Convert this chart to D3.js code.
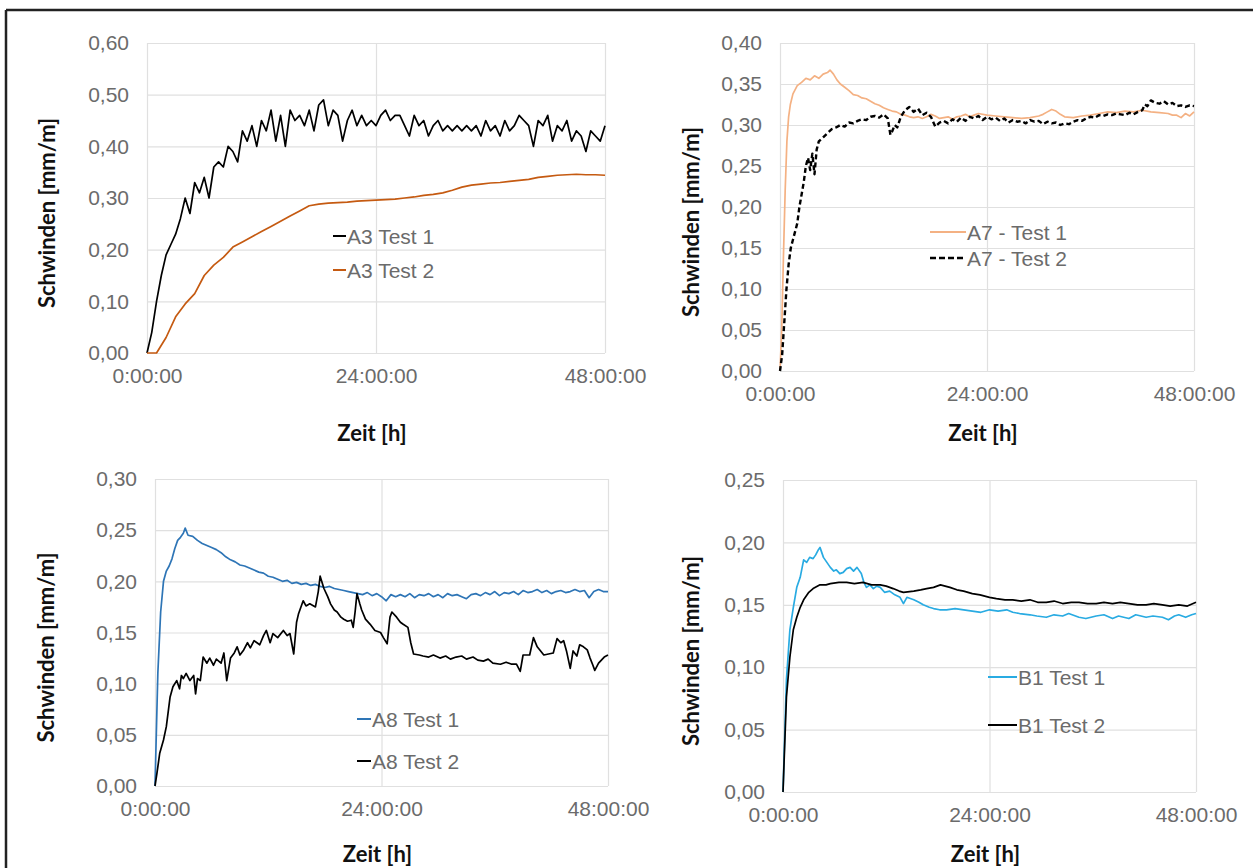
<!DOCTYPE html>
<html><head><meta charset="utf-8">
<script src="https://cdn.jsdelivr.net/npm/d3@7"></script>
<style>body{margin:0;background:#fff}</style></head>
<body>
<svg id="c" width="1253" height="868"></svg>
<script>
// ---------- data ----------
const xTickHours = [0, 24, 48];
const xTickLabels = ["0:00:00", "24:00:00", "48:00:00"];
const xTitle = "Zeit [h]";
const yTitle = "Schwinden [mm/m]";

// Panel A3
const a3YTicks = [0, 0.1, 0.2, 0.3, 0.4, 0.5, 0.6];
const a3t1Time = [0,0.5,1,1.5,2,2.5,3,3.5,4,4.5,5,5.5,6,6.5,7,7.5,8,8.5,9,9.5,10,10.5,11,11.5,12,12.5,13,13.5,14,14.5,15,15.5,16,16.5,17,17.5,18,18.5,19,19.5,20,20.5,21,21.5,22,22.5,23,23.5,24,24.5,25,25.5,26,26.5,27,27.5,28,28.5,29,29.5,30,30.5,31,31.5,32,32.5,33,33.5,34,34.5,35,35.5,36,36.5,37,37.5,38,38.5,39,39.5,40,40.5,41,41.5,42,42.5,43,43.5,44,44.5,45,45.5,46,46.5,47,47.5,48];
const a3t1Val = [0.00,0.04,0.10,0.15,0.19,0.21,0.23,0.26,0.30,0.27,0.33,0.31,0.34,0.30,0.36,0.37,0.36,0.40,0.39,0.37,0.43,0.41,0.44,0.40,0.45,0.43,0.47,0.41,0.46,0.40,0.47,0.45,0.46,0.44,0.47,0.43,0.48,0.49,0.44,0.47,0.46,0.41,0.45,0.47,0.44,0.46,0.44,0.45,0.44,0.46,0.47,0.45,0.46,0.46,0.44,0.42,0.46,0.44,0.45,0.42,0.44,0.45,0.43,0.44,0.43,0.44,0.43,0.44,0.43,0.44,0.42,0.45,0.43,0.44,0.42,0.45,0.43,0.44,0.46,0.45,0.44,0.40,0.45,0.44,0.46,0.41,0.44,0.43,0.45,0.41,0.43,0.42,0.39,0.43,0.42,0.41,0.44];
const a3t2Time = [0,1,2,3,4,5,6,7,8,9,10,11,12,13,14,15,16,17,18,19,20,21,22,23,24,25,26,27,28,29,30,31,32,33,34,35,36,37,38,39,40,41,42,43,44,45,46,47,48];
const a3t2Val = [0,0.00,0.03,0.07,0.095,0.115,0.15,0.17,0.185,0.205,0.215,0.225,0.235,0.245,0.255,0.265,0.275,0.285,0.288,0.29,0.291,0.292,0.294,0.295,0.296,0.297,0.298,0.30,0.302,0.305,0.307,0.31,0.315,0.321,0.325,0.327,0.329,0.33,0.332,0.334,0.336,0.34,0.342,0.344,0.345,0.346,0.345,0.345,0.344];

// Panel A7
const a7YTicks = [0, 0.05, 0.1, 0.15, 0.2, 0.25, 0.3, 0.35, 0.4];
const a7t1Time = [0,0.2,0.4,0.6,0.8,1,1.2,1.5,2,2.5,3,3.5,4,4.5,5,5.5,5.8,6.2,6.6,7,7.5,8,8.5,9,9.5,10,10.5,11,11.5,12,12.5,13,13.5,14,14.5,15,15.5,16,16.5,17,17.5,18,18.5,19,19.5,20,20.5,21,21.5,22,22.5,23,24,25,26,27,28,29,30,30.5,31,31.5,32,32.5,33,34,35,36,37,38,39,40,41,42,43,44,45,45.5,46,46.5,47,47.5,48];
const a7t1Val = [0,0.05,0.14,0.22,0.28,0.31,0.325,0.338,0.348,0.352,0.357,0.355,0.36,0.357,0.362,0.364,0.367,0.362,0.355,0.35,0.346,0.342,0.337,0.336,0.333,0.332,0.329,0.326,0.324,0.321,0.319,0.317,0.316,0.313,0.312,0.31,0.309,0.31,0.308,0.31,0.313,0.311,0.308,0.309,0.31,0.307,0.31,0.311,0.313,0.31,0.312,0.314,0.312,0.311,0.31,0.309,0.308,0.309,0.311,0.313,0.316,0.319,0.317,0.313,0.31,0.309,0.311,0.312,0.314,0.316,0.315,0.317,0.316,0.318,0.316,0.315,0.314,0.312,0.312,0.309,0.314,0.311,0.316];
const a7t2Time = [0,0.25,0.5,0.75,1,1.25,1.5,1.75,2,2.25,2.5,2.75,3,3.25,3.5,3.75,4,4.25,4.5,5,5.5,6,6.5,7,7.5,8,8.5,9,9.5,10,10.5,11,11.5,12,12.5,12.8,13,13.3,13.6,14,14.5,15,15.5,16,16.5,17,17.5,18,18.5,19,19.5,20,20.5,21,21.5,22,22.5,23,23.5,24,24.5,25,25.5,26,26.5,27,27.5,28,28.5,29,29.5,30,30.5,31,31.5,32,32.5,33,33.5,34,34.5,35,35.5,36,36.5,37,37.5,38,38.5,39,39.5,40,40.5,41,41.5,42,42.3,42.6,43,43.5,44,44.5,45,45.5,46,46.5,47,47.5,48];
const a7t2Val = [0,0.02,0.06,0.10,0.13,0.15,0.16,0.17,0.18,0.20,0.215,0.23,0.25,0.26,0.245,0.265,0.24,0.27,0.28,0.285,0.29,0.295,0.297,0.30,0.298,0.303,0.302,0.305,0.307,0.306,0.31,0.311,0.309,0.313,0.308,0.288,0.292,0.30,0.297,0.31,0.318,0.322,0.316,0.32,0.312,0.315,0.31,0.298,0.303,0.305,0.302,0.307,0.304,0.309,0.305,0.31,0.308,0.311,0.306,0.31,0.307,0.309,0.305,0.308,0.303,0.306,0.304,0.305,0.302,0.306,0.304,0.305,0.301,0.304,0.302,0.303,0.300,0.302,0.301,0.304,0.306,0.305,0.308,0.31,0.309,0.312,0.311,0.313,0.312,0.314,0.313,0.312,0.315,0.313,0.316,0.318,0.325,0.323,0.33,0.327,0.326,0.329,0.325,0.327,0.323,0.324,0.322,0.324,0.323];

// Panel A8
const a8YTicks = [0, 0.05, 0.1, 0.15, 0.2, 0.25, 0.3];
const a8t1Time = [0,0.3,0.6,0.9,1.2,1.5,1.8,2.1,2.4,2.7,3,3.2,3.5,4,4.5,5,5.5,6,6.5,7,7.5,8,8.5,9,9.5,10,10.5,11,11.5,12,12.5,13,13.5,14,14.5,15,15.5,16,16.5,17,17.5,18,18.5,19,19.5,20,20.5,21,21.5,22,22.5,23,23.5,24,24.5,25,25.5,26,26.5,27,27.5,28,28.5,29,29.5,30,30.5,31,31.5,32,32.5,33,33.5,34,34.5,35,35.5,36,36.5,37,37.5,38,38.5,39,39.5,40,40.5,41,41.5,42,42.5,43,43.5,44,44.5,45,45.5,46,46.5,47,47.5,48];
const a8t1Val = [0,0.11,0.17,0.2,0.21,0.215,0.222,0.232,0.24,0.243,0.247,0.252,0.245,0.244,0.24,0.237,0.235,0.233,0.231,0.228,0.224,0.221,0.219,0.216,0.215,0.213,0.211,0.209,0.208,0.205,0.204,0.202,0.2,0.201,0.198,0.199,0.197,0.198,0.196,0.197,0.195,0.194,0.195,0.193,0.192,0.191,0.19,0.189,0.188,0.187,0.189,0.186,0.188,0.185,0.181,0.187,0.185,0.187,0.185,0.188,0.184,0.187,0.186,0.188,0.185,0.187,0.184,0.188,0.186,0.187,0.185,0.183,0.187,0.188,0.186,0.189,0.187,0.19,0.186,0.189,0.188,0.19,0.187,0.191,0.189,0.19,0.192,0.189,0.191,0.188,0.19,0.191,0.189,0.19,0.192,0.19,0.191,0.184,0.19,0.192,0.19,0.19];
const a8t2Time = [0,0.2,0.5,0.9,1.2,1.6,1.9,2.3,2.6,2.8,3,3.3,3.7,4.1,4.3,4.5,4.8,5.1,5.5,5.8,6.2,6.5,7,7.3,7.6,8,8.4,8.7,9,9.4,9.8,10.1,10.5,11.1,11.5,11.8,12.2,12.5,13,13.6,14,14.3,14.7,15,15.2,15.7,16,16.4,17,17.3,17.5,17.9,18.3,18.6,19,19.3,19.7,20,20.4,20.8,21,21.2,21.4,21.7,21.9,22.3,22.8,23.3,23.9,24.2,24.6,24.9,25.1,25.6,26,26.3,26.8,27.1,27.4,28,28.4,29,29.5,30.2,30.8,31.3,31.9,32.5,33,33.7,34.2,34.8,35.3,35.8,36.6,37.2,37.8,38.3,38.7,39,39.7,40.1,40.5,41.2,42.2,42.6,43,43.3,43.6,44,44.3,44.7,45,45.4,45.8,46.1,46.4,46.6,47,47.2,47.6,48];
const a8t2Val = [0,0.012,0.032,0.045,0.058,0.087,0.097,0.103,0.095,0.108,0.105,0.11,0.103,0.108,0.09,0.105,0.103,0.126,0.12,0.125,0.118,0.124,0.12,0.13,0.103,0.125,0.13,0.136,0.128,0.133,0.14,0.135,0.142,0.138,0.147,0.152,0.14,0.149,0.145,0.152,0.147,0.149,0.129,0.16,0.168,0.181,0.176,0.178,0.175,0.19,0.205,0.193,0.185,0.178,0.172,0.17,0.165,0.163,0.161,0.162,0.155,0.17,0.188,0.178,0.172,0.163,0.158,0.152,0.15,0.145,0.139,0.165,0.17,0.165,0.16,0.158,0.155,0.14,0.129,0.128,0.127,0.126,0.128,0.125,0.127,0.124,0.126,0.127,0.124,0.126,0.123,0.122,0.124,0.12,0.119,0.121,0.119,0.119,0.112,0.128,0.128,0.145,0.136,0.128,0.13,0.144,0.14,0.142,0.132,0.115,0.132,0.127,0.138,0.136,0.133,0.125,0.118,0.113,0.12,0.122,0.126,0.128];

// Panel B1
const b1YTicks = [0, 0.05, 0.1, 0.15, 0.2, 0.25];
const b1t1Time = [0,0.4,0.8,1.2,1.6,2,2.4,2.75,3.1,3.5,3.8,4.1,4.3,4.7,5.1,5.5,5.9,6.2,6.6,7,7.4,7.8,8.2,8.6,9.1,9.4,9.7,10.1,10.5,10.9,11.3,11.8,12.4,13,13.6,14,14.4,15.2,15.8,16.3,17,17.5,18.2,19,20,21,22,23,24,25,26,26.7,27.5,28.7,29.5,30.6,31.5,32.5,33.2,34.4,35.2,36.4,37.3,38.3,39,40.2,41,42.2,43,44.1,44.8,45.5,46,46.8,47.5,48];
const b1t1Val = [0,0.09,0.13,0.148,0.164,0.172,0.186,0.184,0.188,0.187,0.19,0.194,0.196,0.188,0.184,0.18,0.177,0.178,0.175,0.176,0.179,0.18,0.177,0.18,0.175,0.168,0.164,0.166,0.163,0.165,0.164,0.16,0.161,0.158,0.156,0.151,0.156,0.154,0.152,0.15,0.148,0.147,0.146,0.146,0.147,0.146,0.145,0.144,0.146,0.145,0.146,0.144,0.143,0.142,0.141,0.14,0.142,0.141,0.143,0.14,0.139,0.141,0.142,0.139,0.141,0.139,0.142,0.14,0.141,0.14,0.138,0.141,0.142,0.14,0.142,0.143];
const b1t2Time = [0,0.4,0.8,1.2,1.6,2,2.4,3,3.5,4.3,5,5.5,6.5,7.4,8.3,9.3,10.3,11.3,12,12.8,13.5,14,15.2,16,16.7,17.5,18.3,19.4,20.2,21,22,22.9,24,24.8,25.8,26.7,27.7,28.7,29.6,30.6,31.5,32.5,33.5,34.4,35.4,36.4,37.3,38.3,39.2,40.2,41.2,42.2,43.1,44.1,45,46,47,48];
const b1t2Val = [0,0.076,0.108,0.13,0.14,0.148,0.154,0.16,0.163,0.166,0.166,0.167,0.168,0.168,0.167,0.168,0.166,0.166,0.165,0.163,0.161,0.16,0.161,0.162,0.163,0.164,0.166,0.164,0.162,0.161,0.159,0.158,0.156,0.155,0.154,0.154,0.153,0.154,0.152,0.152,0.153,0.151,0.152,0.152,0.151,0.151,0.152,0.151,0.152,0.151,0.15,0.15,0.151,0.15,0.149,0.15,0.149,0.152];

// ---------- layout / styling ----------
const panels = [
  { box:{l:147,r:605,t:43,b:353}, yTicks:a3YTicks, yTitleX:47, xTitleY:441, legend:{x:333,len:13,ys:[236,270]},
    series:[
      {name:"A3 Test 1", t:a3t1Time, v:a3t1Val, color:"#000000", w:1.7},
      {name:"A3 Test 2", t:a3t2Time, v:a3t2Val, color:"#c55a11", w:1.7}]},
  { box:{l:780,r:1194,t:43,b:371}, yTicks:a7YTicks, yTitleX:691, xTitleY:441, legend:{x:930,len:36,ys:[232,258]},
    series:[
      {name:"A7 - Test 1", t:a7t1Time, v:a7t1Val, color:"#f4b183", w:1.7},
      {name:"A7 - Test 2", t:a7t2Time, v:a7t2Val, color:"#000000", w:2.4, dash:"5,3"}]},
  { box:{l:155,r:608,t:479,b:786}, yTicks:a8YTicks, yTitleX:46, xTitleY:862, legend:{x:357,len:14,ys:[719,761]},
    series:[
      {name:"A8 Test 1", t:a8t1Time, v:a8t1Val, color:"#2e75b6", w:1.7},
      {name:"A8 Test 2", t:a8t2Time, v:a8t2Val, color:"#000000", w:1.7}]},
  { box:{l:783,r:1196,t:480,b:792}, yTicks:b1YTicks, yTitleX:691, xTitleY:862, legend:{x:988,len:29,ys:[677,725]},
    series:[
      {name:"B1 Test 1", t:b1t1Time, v:b1t1Val, color:"#29abe2", w:1.7},
      {name:"B1 Test 2", t:b1t2Time, v:b1t2Val, color:"#000000", w:1.7}]}
];

const svg = d3.select("#c");
const fmt = v => d3.format(".2f")(v).replace(".", ",");
const tickFont = "'Liberation Sans', Arial, sans-serif";
const titleFont = "Lato, 'Noto Sans', sans-serif";

// outer frame (top & left)
svg.append("line").attr("x1",6).attr("x2",1253).attr("y1",10).attr("y2",10).attr("stroke","#222").attr("stroke-width",2.5);
svg.append("line").attr("x1",6).attr("x2",6).attr("y1",10).attr("y2",868).attr("stroke","#222").attr("stroke-width",2.5);

panels.forEach(p => {
  const b = p.box;
  const ymax = d3.max(p.yTicks);
  const x = d3.scaleLinear().domain([0, 48]).range([b.l, b.r]);
  const y = d3.scaleLinear().domain([0, ymax]).range([b.b, b.t]);
  const g = svg.append("g");

  // horizontal grid + y axis
  const yAxis = d3.axisLeft(y).tickValues(p.yTicks).tickFormat(fmt).tickSize(-(b.r - b.l)).tickPadding(18);
  const ya = g.append("g").attr("transform", `translate(${b.l},0)`).call(yAxis);
  ya.select(".domain").remove();
  ya.selectAll(".tick line").attr("stroke", "#e0e0e0").attr("stroke-width", 1.2);
  ya.selectAll(".tick text").attr("fill", "#6b6b6b").style("font-family", tickFont).style("font-size", "21px");

  // vertical grid + x axis
  const xAxis = d3.axisBottom(x).tickValues(xTickHours).tickFormat((d, i) => xTickLabels[i]).tickSize(-(b.b - b.t)).tickPadding(15);
  const xa = g.append("g").attr("transform", `translate(0,${b.b})`).call(xAxis);
  xa.select(".domain").remove();
  xa.selectAll(".tick line").attr("stroke", "#e0e0e0").attr("stroke-width", 1.2);
  xa.selectAll(".tick text").attr("fill", "#6b6b6b").style("font-family", tickFont).style("font-size", "21px");

  // series
  p.series.forEach(s => {
    const pts = s.t.map((t, i) => [t, s.v[i]]);
    const line = d3.line().x(d => x(d[0])).y(d => y(d[1]));
    g.append("path").datum(pts).attr("d", line).attr("fill", "none")
      .attr("stroke", s.color).attr("stroke-width", s.w)
      .attr("stroke-linejoin", "round")
      .attr("stroke-dasharray", s.dash || null);
  });

  // legend
  p.series.forEach((s, i) => {
    const ly = p.legend.ys[i];
    g.append("line").attr("x1", p.legend.x).attr("x2", p.legend.x + p.legend.len)
      .attr("y1", ly).attr("y2", ly).attr("stroke", s.color)
      .attr("stroke-width", s.dash ? 2.4 : 2)
      .attr("stroke-dasharray", s.dash ? "6,3" : null);
    g.append("text").attr("x", p.legend.x + p.legend.len + 1).attr("y", ly).attr("dy", "0.36em")
      .attr("fill", "#6b6b6b").style("font-family", tickFont).style("font-size", "21px").text(s.name);
  });

  // axis titles
  g.append("text").attr("x", (b.l + b.r) / 2 - 4).attr("y", p.xTitleY).attr("text-anchor", "middle")
    .style("font-family", titleFont).style("font-weight", 700).style("font-size", "22px").attr("fill", "#111").text(xTitle);
  g.append("text").attr("transform", `translate(${p.yTitleX},${(b.t + b.b) / 2 + 15}) rotate(-90)`)
    .attr("text-anchor", "middle").attr("dy", "0.35em")
    .style("font-family", titleFont).style("font-weight", 700).style("font-size", "22px").attr("fill", "#111").text(yTitle);
});
</script>
</body></html>
